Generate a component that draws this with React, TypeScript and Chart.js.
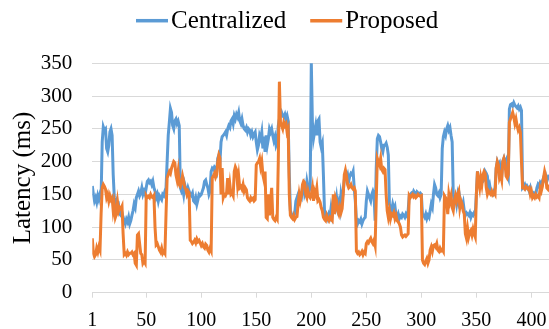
import React, { useEffect, useRef } from 'react';
import { Chart, registerables } from 'chart.js';

Chart.register(...registerables);

const seriesNames = ['Centralized', 'Proposed'];
const seriesColors = ['#5B9BD5', '#ED7D31'];

const centralized = [
  163,150,140,145,138,148,142,150,146,230,
  253,248,250,220,215,225,245,250,240,180,
  145,135,140,128,132,120,118,122,115,110,
  105,112,108,115,105,110,118,125,135,130,
  145,150,155,148,152,160,150,155,150,160,
  170,172,168,170,165,170,160,155,145,150,
  140,148,145,142,150,148,155,160,200,240,
  260,281,275,255,250,262,265,258,262,255,
  160,155,160,150,165,158,152,160,155,150,
  148,152,140,138,145,135,142,150,148,150,
  155,160,170,172,165,160,150,155,185,190,
  188,192,190,185,205,210,200,230,238,240,
  242,245,240,250,255,252,262,265,258,270,
  265,272,268,275,262,258,265,255,250,248,
  252,245,250,248,240,245,238,242,245,230,
  218,225,240,235,245,220,238,215,240,225,
  235,250,245,250,240,232,238,225,230,255,
  265,270,275,270,268,272,265,270,262,180,
  125,120,118,115,122,140,145,150,142,148,
  145,160,165,150,155,170,160,155,160,352,
  260,235,245,255,240,262,265,230,222,228,
  180,125,115,118,113,120,116,130,120,135,
  140,132,145,130,138,128,150,140,155,172,
  178,175,180,170,178,182,180,185,160,140,
  110,105,110,108,112,105,110,113,115,140,
  155,150,145,140,150,155,150,110,190,235,
  240,238,230,220,215,225,225,228,222,210,
  135,130,125,135,128,132,118,115,120,113,
  117,115,120,118,115,120,117,125,148,150,
  152,150,155,152,150,154,152,150,152,150,
  120,118,115,120,113,118,115,125,135,130,
  150,165,160,150,148,152,145,150,220,238,
  245,240,250,255,248,252,240,230,150,140,
  145,135,148,138,145,135,132,138,125,118,
  122,120,118,122,115,120,118,122,120,150,
  185,170,165,172,175,170,172,185,182,178,
  160,165,155,152,150,155,160,190,200,195,
  198,185,178,200,205,198,202,180,175,280,
  287,288,285,290,286,284,282,285,280,283,
  278,160,162,165,160,163,160,155,160,152,
  150,152,148,150,160,165,162,168,165,170,
  175,172,178,170,175,180,
];

const proposed = [
  83,60,55,58,68,62,70,65,120,160,
  165,162,158,145,150,140,148,142,145,125,
  135,115,120,138,125,130,128,132,90,58,
  60,57,62,58,60,60,62,58,60,45,
  42,88,90,75,60,58,45,48,45,148,
  145,147,145,150,146,145,148,100,73,75,
  70,65,62,68,60,63,60,120,175,180,
  185,182,190,195,200,198,180,172,185,165,
  162,168,178,170,160,158,150,155,152,80,
  78,75,77,80,76,82,78,80,76,72,
  75,70,68,74,72,65,62,68,64,175,
  178,182,176,180,200,210,205,150,190,145,
  150,148,152,175,150,165,150,152,148,185,
  192,188,165,178,160,162,158,165,155,160,
  157,145,142,140,145,142,144,140,142,195,
  198,200,205,192,200,180,172,185,115,113,
  150,118,140,160,115,112,110,115,112,200,
  322,260,255,250,260,255,258,245,250,150,
  118,115,113,118,112,115,116,135,150,140,
  148,165,170,168,150,145,155,148,145,150,
  160,140,155,150,160,140,142,138,130,125,
  115,112,110,118,113,110,115,112,110,150,
  120,145,140,125,120,130,122,128,150,180,
  187,178,165,160,162,165,160,158,160,155,
  63,60,62,58,60,63,58,62,60,75,
  78,76,80,83,78,75,80,72,140,205,
  200,195,205,188,185,190,188,150,125,115,
  125,113,120,118,122,113,118,110,108,105,
  100,88,85,87,88,86,88,90,148,145,
  148,150,146,148,145,147,150,148,147,148,
  50,45,43,48,52,45,50,65,70,63,
  72,73,70,75,65,63,68,64,66,63,
  148,145,140,120,150,140,148,130,125,140,
  148,140,150,155,130,140,135,125,120,90,
  83,98,85,92,95,88,97,90,85,150,
  185,170,160,175,165,180,185,182,160,150,
  155,152,150,155,150,153,150,190,200,195,
  175,180,172,200,205,198,178,175,180,260,
  265,270,275,268,258,265,255,248,252,245,
  200,160,160,158,162,160,158,160,150,155,
  145,148,145,150,146,148,145,160,155,162,
  175,185,178,160,158,165,
];

const xTickValues = [1, 50, 100, 150, 200, 250, 300, 350, 400];
const yMin = 0;
const yMax = 350;
const yStep = 50;
const yTitle = 'Latency (ms)';

const indices = centralized.map((_, i) => i + 1);

const FAMILY = "'Liberation Serif', 'Times New Roman', serif";

const legendPlugin = {
  id: 'customLegend',
  afterDraw(chart: any) {
    const ctx = chart.ctx as CanvasRenderingContext2D;
    ctx.save();
    ctx.font = `25px ${FAMILY}`;
    ctx.textBaseline = 'middle';
    const lineLen = 32;
    const gap = 3;
    const itemGap = 24;
    const y = 20.7;
    let x = 136;
    seriesNames.forEach((name, i) => {
      ctx.strokeStyle = seriesColors[i];
      ctx.lineWidth = 3.5;
      ctx.lineCap = 'butt';
      ctx.beginPath();
      ctx.moveTo(x, y);
      ctx.lineTo(x + lineLen, y);
      ctx.stroke();
      x += lineLen + gap;
      ctx.fillStyle = '#000';
      ctx.fillText(name, x, y + 1);
      x += ctx.measureText(name).width + itemGap;
    });
    ctx.restore();
  },
};

export default function App() {
  const ref = useRef<HTMLCanvasElement>(null);
  useEffect(() => {
    if (!ref.current) return;
    const chart = new Chart(ref.current, {
      type: 'line',
      data: {
        labels: indices,
        datasets: [
          {
            label: seriesNames[0],
            data: centralized,
            borderColor: seriesColors[0],
            backgroundColor: seriesColors[0],
            borderWidth: 3,
            pointRadius: 0,
            tension: 0,
            order: 1,
          },
          {
            label: seriesNames[1],
            data: proposed,
            borderColor: seriesColors[1],
            backgroundColor: seriesColors[1],
            borderWidth: 3,
            pointRadius: 0,
            tension: 0,
            order: 0,
          },
        ],
      },
      options: {
        animation: false,
        responsive: false,
        layout: { padding: { top: 63.3, left: 0, right: 0, bottom: 0 } },
        plugins: {
          legend: { display: false },
          tooltip: { enabled: false },
        },
        scales: {
          x: {
            type: 'linear',
            min: 1,
            max: indices.length,
            afterBuildTicks: (s: any) => {
              s.ticks = xTickValues.map((v) => ({ value: v }));
            },
            afterFit: (s: any) => {
              s.height = 36.3;
              s.paddingLeft = 0;
              s.paddingRight = 0;
            },
            grid: { drawOnChartArea: false, drawTicks: true, tickLength: 5, color: '#D9D9D9' },
            border: { display: true, color: '#D9D9D9', width: 1 },
            ticks: {
              autoSkip: false,
              maxRotation: 0,
              padding: 11,
              color: '#000',
              font: { family: FAMILY, size: 20 },
            },
          },
          y: {
            min: yMin,
            max: yMax,
            afterFit: (s: any) => {
              s.width = 92.3;
            },
            grid: { color: '#D9D9D9', drawTicks: false },
            border: { display: false },
            ticks: {
              stepSize: yStep,
              padding: 20,
              color: '#000',
              font: { family: FAMILY, size: 21 },
            },
            title: {
              display: true,
              text: yTitle,
              color: '#000',
              font: { family: FAMILY, size: 25 },
              padding: { top: 8, bottom: 0 },
            },
          },
        },
      },
      plugins: [legendPlugin],
    });
    return () => chart.destroy();
  }, []);
  return (
    <div style={{ position: 'absolute', left: 0, top: 0, width: 549, height: 329 }}>
      <canvas ref={ref} width={549} height={329} style={{ display: 'block' }} />
    </div>
  );
}
